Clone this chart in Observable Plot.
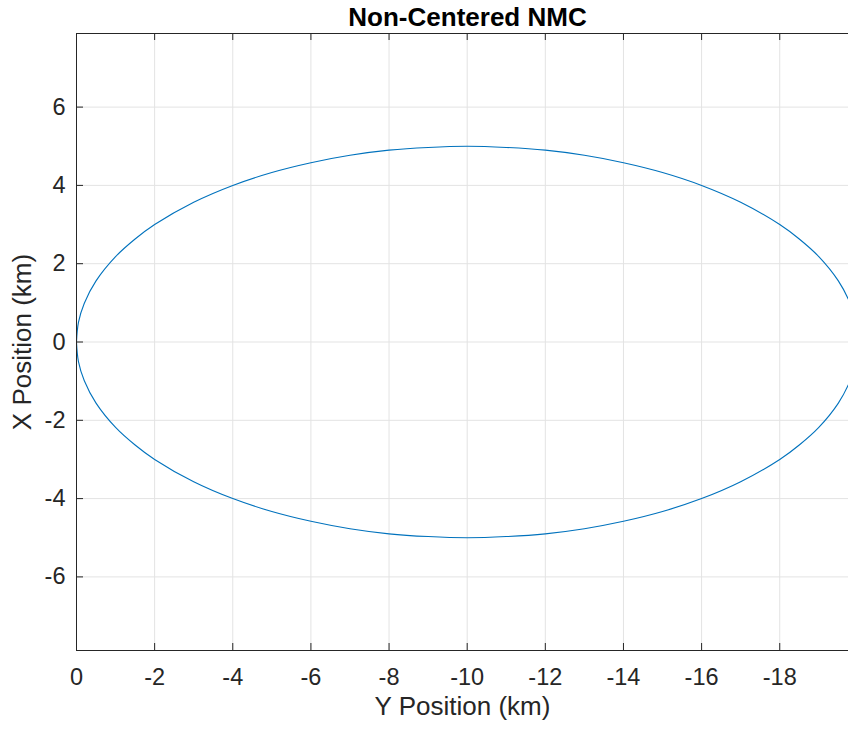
<!DOCTYPE html>
<html>
<head>
<meta charset="utf-8">
<script src="https://cdn.jsdelivr.net/npm/d3@7"></script>
<script src="https://cdn.jsdelivr.net/npm/@observablehq/plot@0.6"></script>
<style>
  html, body { margin: 0; padding: 0; background: #fff; overflow: hidden; }
  #chart svg { display: block; font-family: "Liberation Sans", Arial, Helvetica, sans-serif; }
</style>
</head>
<body>
<div id="chart"></div>
<script>
// Chart text
const titleText = "Non-Centered NMC";
const xLabelText = "Y Position (km)";
const yLabelText = "X Position (km)";

// Tick values
const xTicks = [0, -2, -4, -6, -8, -10, -12, -14, -16, -18];
const yTicks = [-6, -4, -2, 0, 2, 4, 6];

// Orbit trace (Y position, X position upper / lower half)
const orbitY = [0, -0.05, -0.2, -0.5, -1, -1.5, -2, -3, -4, -5, -6, -7, -8, -9, -10,
                -11, -12, -13, -14, -15, -16, -17, -18, -18.5, -19, -19.5, -19.8, -19.95, -20];
const orbitXUpper = [0, 0.5, 0.99, 1.56, 2.18, 2.63, 3.0, 3.57, 4.0, 4.33, 4.58, 4.77, 4.9, 4.97, 5.0,
                     4.97, 4.9, 4.77, 4.58, 4.33, 4.0, 3.57, 3.0, 2.63, 2.18, 1.56, 0.99, 0.5, 0];
const orbitXLower = [0, -0.5, -0.99, -1.56, -2.18, -2.63, -3.0, -3.57, -4.0, -4.33, -4.58, -4.77, -4.9, -4.97, -5.0,
                     -4.97, -4.9, -4.77, -4.58, -4.33, -4.0, -3.57, -3.0, -2.63, -2.18, -1.56, -0.99, -0.5, 0];

// Build a closed path: upper half left->right, then lower half right->left
const orbit = [];
orbitY.forEach((y, i) => orbit.push({y, x: orbitXUpper[i]}));
for (let i = orbitY.length - 1; i >= 0; i--) orbit.push({y: orbitY[i], x: orbitXLower[i]});

const W = 848, H = 729;
const mL = 76, mR = 0, mT = 33, mB = 79;
const innerH = H - mT - mB;
const innerW = W - mL - mR;
const axisColor = "#262626";
const gridColor = "#e3e3e3";
const tickFont = 23.5;
const labelFont = 26;

const plot = Plot.plot({
  width: W,
  height: H,
  marginLeft: mL,
  marginRight: mR,
  marginTop: mT,
  marginBottom: mB,
  style: {fontFamily: "'Liberation Sans', Arial, Helvetica, sans-serif", color: axisColor, background: "#fff"},
  x: {domain: [0, -19.76], ticks: xTicks},
  y: {domain: [-7.88, 7.88], ticks: yTicks},
  marks: [
    Plot.gridX(xTicks, {stroke: gridColor, strokeOpacity: 1, strokeWidth: 1}),
    Plot.gridY(yTicks, {stroke: gridColor, strokeOpacity: 1, strokeWidth: 1}),
    Plot.line(orbit, {x: "y", y: "x", stroke: "#0072BD", strokeWidth: 1.1, curve: "catmull-rom", clip: true}),
    // inward tick marks
    Plot.tickX(xTicks, {x: d => d, insetTop: innerH - 7, stroke: axisColor}),
    Plot.tickX(xTicks, {x: d => d, insetBottom: innerH - 7, stroke: axisColor}),
    Plot.tickY(yTicks, {y: d => d, insetRight: innerW - 7, stroke: axisColor}),
    // box
    Plot.frame({stroke: axisColor, strokeWidth: 1}),
    // tick labels
    Plot.axisX(xTicks, {anchor: "bottom", tickSize: 0, tickPadding: 18, fontSize: tickFont, label: null, tickFormat: d => String(d), fill: axisColor}),
    Plot.axisY(yTicks, {anchor: "left", tickSize: 0, tickPadding: 11, fontSize: tickFont, label: null, tickFormat: d => String(d), fill: axisColor}),
    // axis titles
    Plot.text([xLabelText], {frameAnchor: "bottom", dy: 56, fontSize: labelFont, fill: axisColor, textAnchor: "middle", lineAnchor: "middle"}),
    Plot.text([yLabelText], {frameAnchor: "left", dx: -54, rotate: -90, fontSize: labelFont, fill: axisColor, textAnchor: "middle", lineAnchor: "middle"}),
    // title
    Plot.text([titleText], {frameAnchor: "top", dy: -16, dx: 5, fontSize: labelFont, fontWeight: "bold", fill: "#000", textAnchor: "middle", lineAnchor: "middle"})
  ]
});

document.getElementById("chart").appendChild(plot);
</script>
</body>
</html>
